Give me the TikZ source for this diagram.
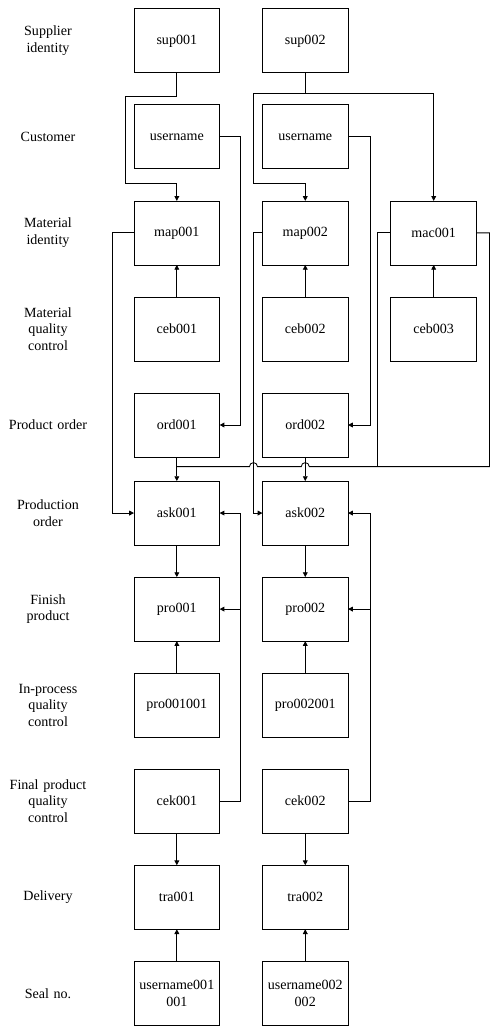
\documentclass[tikz,border=0pt]{standalone}
\usepackage{fontspec}
\setmainfont{Liberation Serif}
\usetikzlibrary{calc,positioning,matrix,arrows.meta}
\tikzset{
  box/.style={rectangle, draw=black, line width=0.6pt, anchor=center, minimum width=2.14cm, minimum height=1.6cm, inner sep=2pt, align=center, font=\fontsize{10}{11.8}\selectfont},
  lab/.style={rectangle, anchor=center, text width=2.4cm, inner sep=0pt, align=center, font=\fontsize{10}{11.8}\selectfont},
  line/.style={draw, line width=0.6pt, -{Triangle[length=3.4pt,width=3.4pt]}},
  wire/.style={draw, line width=0.6pt},
}

\begin{document}
\begin{tikzpicture}
    \useasboundingbox (0,0) rectangle (12.225,-25.675);
    \matrix[anchor=north west, inner sep=0pt, outer sep=0pt, row sep=0.78cm, column sep=0cm] at (0,-0.21) {
      \node[lab] (lsup) {Supplier\\identity}; &[0.94cm] \node[box] (sup1) {sup001}; &[1.05cm] \node[box] (sup2) {sup002}; \\
      \node[lab] (lcus) {Customer}; & \node[box] (usr1) {username}; & \node[box] (usr2) {username}; \\
      \node[lab] (lmid) {Material\\identity}; & \node[box] (map1) {map001}; & \node[box] (map2) {map002}; &[1.05cm] \node[box] (mac1) {mac001}; \\
      \node[lab] (lmqc) {Material\\quality\\control}; & \node[box] (ceb1) {ceb001}; & \node[box] (ceb2) {ceb002}; &[1.05cm] \node[box] (ceb3) {ceb003}; \\
      \node[lab] (lord) {Product order}; & \node[box] (ord1) {ord001}; & \node[box] (ord2) {ord002}; \\[-0.2cm]
      \node[lab] (lask) {Production\\order}; & \node[box] (ask1) {ask001}; & \node[box] (ask2) {ask002}; \\
      \node[lab] (lfin) {Finish\\product}; & \node[box] (pro1) {pro001}; & \node[box] (pro2) {pro002}; \\
      \node[lab] (lipq) {In-process\\quality\\control}; & \node[box] (ipq1) {pro001001}; & \node[box] (ipq2) {pro002001}; \\
      \node[lab] (lfpq) {Final product\\quality\\control}; & \node[box] (cek1) {cek001}; & \node[box] (cek2) {cek002}; \\
      \node[lab] (ldel) {Delivery}; & \node[box] (tra1) {tra001}; & \node[box] (tra2) {tra002}; \\
      \node[lab] (lseal) {Seal no.}; & \node[box] (seal1) {username001\\001}; & \node[box] (seal2) {username002\\002}; \\
    };

    % supplier to material
    \path[line] (sup1.south) -- ++(0,-0.6) -| ($(map1.north west)+(-0.225,0.425)$) -| (map1.north);
    \path[line] (sup2.south) -- ++(0,-0.525) coordinate (jsup) -| ($(map2.north west)+(-0.225,0.425)$) -| (map2.north);
    \path[line] (jsup) -| (mac1.north);

    % customer to order
    \path[line] (usr1.east) -- ++(0.525,0) |- (ord1.east);
    \path[line] (usr2.east) -- ++(0.55,0) |- (ord2.east);

    % material
    \path[line] (ceb1.north) -- (map1.south);
    \path[line] (ceb2.north) -- (map2.south);
    \path[line] (ceb3.north) -- (mac1.south);
    \path[line] (map1.west) -- ++(-0.55,0) |- (ask1.west);
    \path[line] (map2.west) -- ++(-0.225,0) |- (ask2.west);

    % mac001 bus, jumps over crossings
    \coordinate (bus) at ($(ord1.south)+(0,-0.24)$);
    \coordinate (macr) at ($(mac1.east)+(0.325,0)$);
    \path[wire] (mac1.west) -- ++(-0.325,0) |- (macr |- bus);
    \path[wire] (mac1.east) -- (macr) |- ($(ord2.south |- bus)+(0.1,0)$)
      arc[start angle=0, end angle=180, radius=0.1]
      -- ($(map2.west |- bus)+(-0.125,0)$)
      arc[start angle=0, end angle=180, radius=0.1]
      -- (ord1.south |- bus);

    % production
    \path[line] (ord1.south) -- (ask1.north);
    \path[line] (ord2.south) -- (ask2.north);
    \path[line] (ask1.south) -- (pro1.north);
    \path[line] (ask2.south) -- (pro2.north);
    \path[line] (ipq1.north) -- (pro1.south);
    \path[line] (ipq2.north) -- (pro2.south);
    \path[line] (cek1.east) -- ++(0.525,0) |- (ask1.east);
    \path[line] (cek1.east) -- ++(0.525,0) |- (pro1.east);
    \path[line] (cek2.east) -- ++(0.55,0) |- (ask2.east);
    \path[line] (cek2.east) -- ++(0.55,0) |- (pro2.east);

    % delivery
    \path[line] (cek1.south) -- (tra1.north);
    \path[line] (cek2.south) -- (tra2.north);
    \path[line] (seal1.north) -- (tra1.south);
    \path[line] (seal2.north) -- (tra2.south);
\end{tikzpicture}
\end{document}
